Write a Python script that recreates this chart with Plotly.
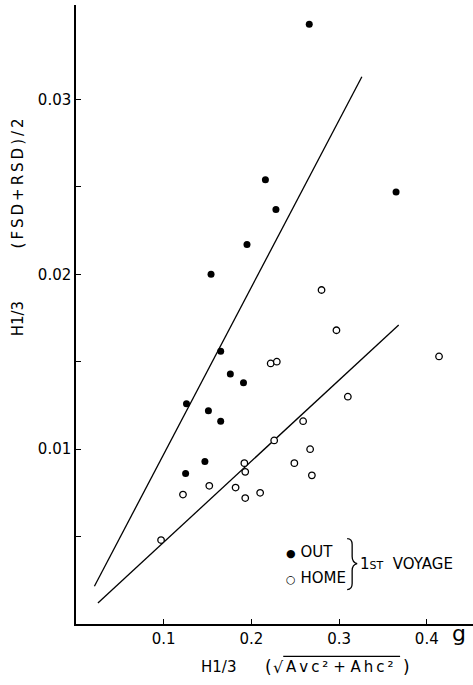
import plotly.graph_objects as go

# values
out_x = [0.266, 0.216, 0.228, 0.365, 0.195, 0.154, 0.165, 0.176, 0.191, 0.126,
         0.151, 0.165, 0.147, 0.125]
out_y = [0.0343, 0.0254, 0.0237, 0.0247, 0.0217, 0.0200, 0.0156, 0.0143, 0.0138,
         0.0126, 0.0122, 0.0116, 0.0093, 0.0086]

home_x = [0.280, 0.297, 0.414, 0.222, 0.229, 0.310, 0.259, 0.226, 0.267, 0.192,
          0.249, 0.193, 0.269, 0.152, 0.182, 0.122, 0.210, 0.193, 0.097]
home_y = [0.0191, 0.0168, 0.0153, 0.0149, 0.0150, 0.0130, 0.0116, 0.0105, 0.0100,
          0.0092, 0.0092, 0.0087, 0.0085, 0.0079, 0.0078, 0.0074, 0.0075, 0.0072,
          0.0048]

out_fit_x = [0.021, 0.326]
out_fit_y = [0.00216, 0.0313]
home_fit_x = [0.025, 0.368]
home_fit_y = [0.0012, 0.0171]

x_ticks = [0.1, 0.2, 0.3, 0.4]
x_tick_labels = ["0.1", "0.2", "0.3", "0.4"]
y_ticks = [0.01, 0.02, 0.03]
y_tick_labels = ["0.01", "0.02", "0.03"]

W, H = 473, 685
ML, MR, MT, MB = 75.5, 0, 5, 60.5
FONT = "DejaVu Sans"
TS = "\u2009"  # thin space, the lettering is spread out


def px(x, y):
    """pixel position -> paper coords"""
    return (x - ML) / (W - ML - MR), (H - MB - y) / (H - MT - MB)


fig = go.Figure()
for fx, fy in [(out_fit_x, out_fit_y), (home_fit_x, home_fit_y)]:
    fig.add_trace(go.Scatter(x=fx, y=fy, mode="lines",
                             line=dict(color="black", width=1.3), hoverinfo="skip"))
fig.add_trace(go.Scatter(x=out_x, y=out_y, mode="markers", name="OUT",
                         marker=dict(size=7, color="black")))
fig.add_trace(go.Scatter(x=home_x, y=home_y, mode="markers", name="HOME",
                         marker=dict(size=6.5, color="white",
                                     line=dict(color="black", width=1.3))))

annotations = []


def note(text, x, y, size=15, xanchor="left", angle=0):
    ax, ay = px(x, y)
    annotations.append(dict(text=text, x=ax, y=ay, xref="paper", yref="paper",
                            xanchor=xanchor, yanchor="middle", showarrow=False,
                            textangle=angle, font=dict(family=FONT, size=size,
                                                       color="black")))


# y title (rotated): H1/3 near the bottom, (FSD+RSD)/2 above it
note("H1/3", 17, 319, size=15, xanchor="center", angle=-90)
note(TS.join("(FSD+RSD)/2"), 17, 184, size=15, xanchor="center", angle=-90)

# x title
note("H1/3", 199, 668, size=15)
note("(", 263, 668, size=17)
note("√", 271, 668, size=16)
note(TS.join("Avc²") + " + " + TS.join("Ahc²"), 284, 668, size=15)
note(")", 401, 668, size=17)
note("g", 450, 634, size=22)

# legend
note("<span style='font-size:11px'>●</span> OUT", 284, 552, size=15)
note("<span style='font-size:11px'>○</span> HOME", 284, 578, size=15)
note("1<span style='font-size:11px'>ST</span>  VOYAGE", 358, 564, size=15)

shapes = []
# overbar of the square root
x0, y0 = px(283, 657)
x1, y1 = px(400, 657)
shapes.append(dict(type="line", xref="paper", yref="paper", x0=x0, y0=y0, x1=x1, y1=y1,
                   line=dict(color="black", width=1.2)))

# brace
pts = [("M", [(347, 539)]), ("Q", [(352, 539), (352, 545)]), ("L", [(352, 557)]),
       ("Q", [(352, 563), (357, 564)]), ("Q", [(352, 565), (352, 571)]),
       ("L", [(352, 584)]), ("Q", [(352, 590), (347, 590)])]
path = ""
for cmd, cs in pts:
    path += cmd + " " + " ".join("%.5f,%.5f" % px(a, b) for a, b in cs) + " "
shapes.append(dict(type="path", xref="paper", yref="paper", path=path.strip(),
                   line=dict(color="black", width=1.3)))

fig.update_layout(
    width=W, height=H,
    margin=dict(l=ML, r=MR, t=MT, b=MB, pad=0),
    plot_bgcolor="white", paper_bgcolor="white",
    showlegend=False,
    font=dict(family=FONT, size=15, color="black"),
    annotations=annotations,
    shapes=shapes,
    xaxis=dict(
        range=[0, (W - ML - MR) / 878],
        tickvals=x_ticks, ticktext=x_tick_labels,
        showgrid=False, zeroline=False,
        showline=True, linecolor="black", linewidth=1.5,
        ticks="inside", ticklen=5, tickcolor="black",
        tickfont=dict(size=15),
    ),
    yaxis=dict(
        range=[0, (H - MT - MB) / 17500],
        tickvals=y_ticks, ticktext=y_tick_labels,
        showgrid=False, zeroline=False,
        showline=True, linecolor="black", linewidth=1.5,
        ticks="inside", ticklen=5, tickcolor="black",
        tickfont=dict(size=15),
        minor=dict(tickvals=[0.005, 0.015, 0.025], ticks="inside", ticklen=5,
                   tickcolor="black"),
    ),
)

fig.write_html("out.html", config={"displayModeBar": False},
               post_script="document.body.style.margin='0';")
